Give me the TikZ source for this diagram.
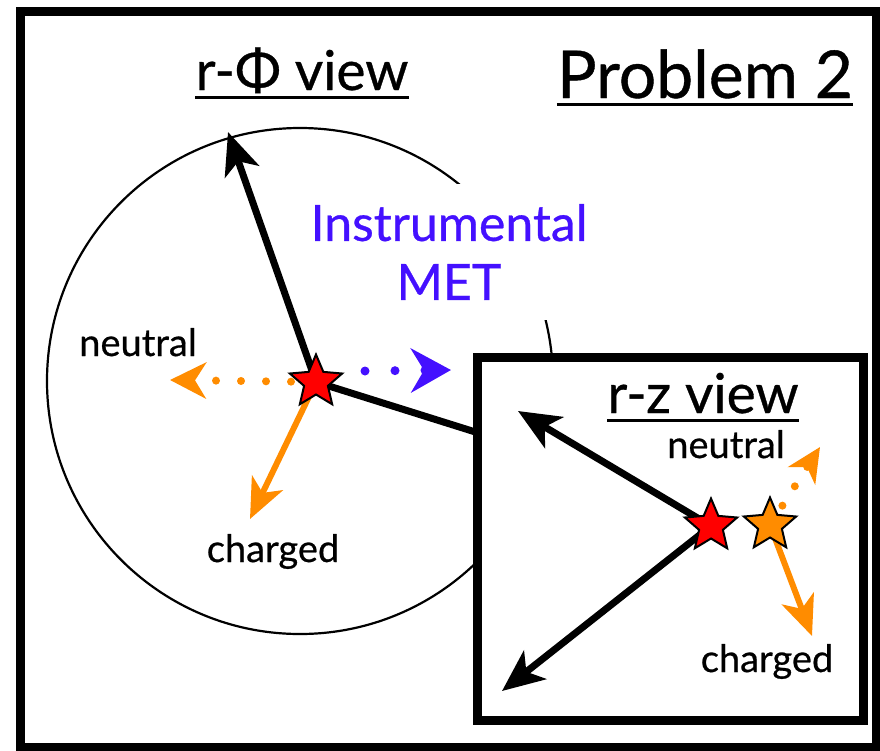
\documentclass[tikz,border=0pt]{standalone}
\usepackage{fontspec}
\setmainfont{Lato}[FakeBold=0.6]
\usetikzlibrary{arrows.meta,shapes.geometric}
\definecolor{metblue}{RGB}{68,16,255}
\definecolor{orng}{RGB}{255,140,0}
\begin{document}
\begin{tikzpicture}[x=1pt,y=-1pt,
  blk/.style={line width=7pt,-{Stealth[length=42pt,width=36pt,inset=11pt]}},
  chg/.style={orng,line width=6pt,-{Stealth[length=40pt,width=34pt,inset=11pt]}},
  dotted orange/.style={orng,line width=8pt,line cap=round,dash pattern=on 0pt off 25pt,
      -{Stealth[length=36pt,width=36pt,inset=11pt,line cap=butt]}},
  dotted blue/.style={metblue,line width=9pt,line cap=round,dash pattern=on 0pt off 30pt,
      -{Stealth[length=40pt,width=44pt,inset=13pt,line cap=butt]}},
  vtx/.style={star,star points=5,star point ratio=2.2,minimum size=55pt,inner sep=0pt,
      draw=black,line width=2pt},
  lbl/.style={anchor=base,inner sep=0pt,font=\fontsize{38}{40}\selectfont},
  ttl/.style={anchor=base,inner sep=0pt,font=\fontsize{55}{60}\selectfont},
  uline/.style={line width=3pt}]
\useasboundingbox (0,0) rectangle (880,750);
% outer frame
\draw[line width=9pt] (20.5,11.5) rectangle (876.5,747);
% titles
\node[ttl] (rphi) at (302,90) {r-Φ view};
\draw[uline] ([yshift=-7pt]rphi.base west) -- ([yshift=-7pt]rphi.base east);
\node[ttl,font=\fontsize{66}{70}\selectfont] (prob) at (705,98) {Problem 2};
\draw[uline] ([yshift=-6pt]prob.base west) -- ([yshift=-6pt]prob.base east);
% r-phi view
\coordinate (c0) at (300,381);
\coordinate (c1) at (316,382);
\draw[line width=2.2pt] (c0) circle[radius=253];
\node[fill=white,align=center,text=metblue,inner sep=20pt,
      font=\fontsize{50}{59}\selectfont] (met) at (449,252) {Instrumental\\MET};
\coordinate (t1) at (228,132);
\coordinate (t2) at (520,446);
\coordinate (n1) at (170,380);
\coordinate (b0) at (365,371);
\coordinate (b1) at (451,370);
\coordinate (ch1) at (250,519);
\draw[blk] (c1) -- (t1);
\draw[line width=7pt] (c1) -- (t2);
\draw[dotted orange] (c1) -- (n1);
\draw[dotted blue] (b0) -- (b1);
\draw[chg] (c1) -- (ch1);
\node[lbl] (neu1) at (138,356) {neutral};
\node[lbl] (chg1) at (273,562) {charged};
\node[vtx,fill=red] (s1) at (c1) {};
% r-z view inset
\draw[line width=9pt,fill=white] (477.5,357) rectangle (863,720);
\node[ttl] (rz) at (703,413) {r-z view};
\draw[uline] ([yshift=-7pt]rz.base west) -- ([yshift=-7pt]rz.base east);
\node[lbl] (neu2) at (726,458) {neutral};
\node[lbl] (chg2) at (767,672) {charged};
\coordinate (c2) at (711,526);
\coordinate (c3) at (770,525);
\coordinate (t3) at (518,411);
\coordinate (t4) at (502,691);
\coordinate (n2) at (820,447);
\coordinate (ch2) at (812,636);
\draw[blk] (c2) -- (t3);
\draw[blk] (c2) -- (t4);
\draw[orng,line width=8pt,line cap=round,dash pattern=on 0pt off 23pt,
      -{Stealth[length=34pt,width=32pt,inset=10pt,line cap=butt]}] (c3) -- (n2);
\draw[chg] (c3) -- (ch2);
\node[vtx,fill=red] (s2) at (c2) {};
\node[vtx,fill=orng] (s3) at (c3) {};
\end{tikzpicture}
\end{document}
